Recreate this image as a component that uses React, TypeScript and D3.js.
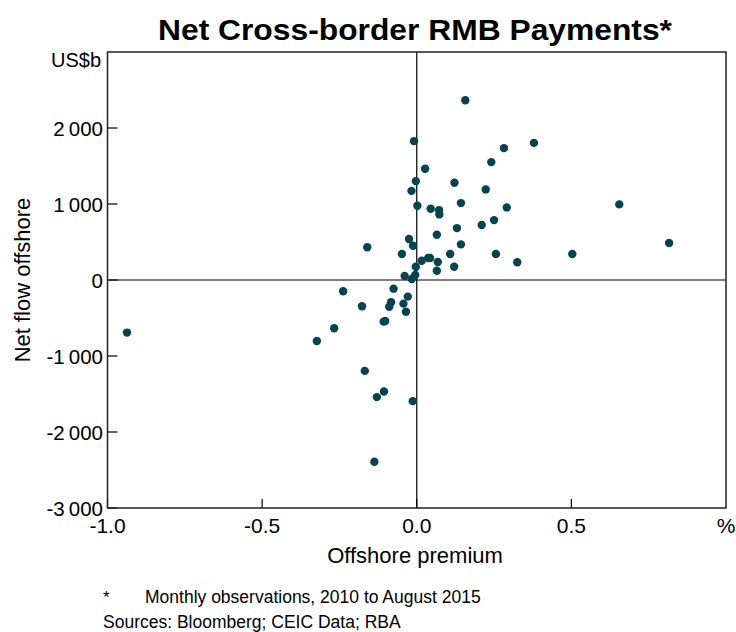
import React, { useEffect, useRef } from 'react';
import * as d3 from 'd3';

// offshore premium (%) and net flow offshore (US$b)
const premium = [
    0.157, -0.009, 0.379, 0.282, 0.027, 0.241, -0.003, 0.122, -0.017, 0.223,
    0.002, 0.143, 0.045, 0.072, 0.073, 0.291, 0.655, 0.25, 0.21, 0.13,
    0.065, -0.025, -0.012, 0.143, 0.816, -0.048, 0.108, 0.256, 0.503, 0.016,
    0.037, 0.043, 0.068, 0.325, 0.121, -0.003, 0.065, -0.039, -0.005, -0.016,
    -0.16, -0.075, -0.238, -0.177, -0.083, -0.089, -0.043, -0.029, -0.035, -0.107,
    -0.102, -0.267, -0.323, -0.937, -0.168, -0.106, -0.129, -0.013, -0.137
];
const netFlow = [
    2365, 1827, 1804, 1735, 1463, 1551, 1301, 1279, 1173, 1192,
    976, 1012, 937, 920, 863, 955, 995, 788, 723, 683,
    595, 539, 451, 469, 486, 342, 342, 342, 342, 254,
    289, 289, 237, 233, 175, 175, 122, 53, 66, 13,
    430, -114, -148, -346, -293, -351, -311, -219, -417, -548,
    -540, -635, -802, -692, -1196, -1468, -1541, -1594, -2392
];

const xTicks = [-1.0, -0.5, 0.0, 0.5];
const yTicks = [-3000, -2000, -1000, 0, 1000, 2000];

const font = '"Liberation Sans", Arial, sans-serif';
const dotColor = '#08444f';

const App = () => {
    const chartRef = useRef(null);

    useEffect(() => {
        const svg = d3.select(chartRef.current);
        svg.selectAll('*').remove();

        const left = 107.5, right = 726, top = 52, bottom = 508;

        const x = d3.scaleLinear().domain([-1, 1]).range([left, right]);
        const y = d3.scaleLinear().domain([-3000, 3000]).range([bottom, top]);

        // title
        svg.append('text')
            .attr('x', 415).attr('y', 40)
            .attr('text-anchor', 'middle')
            .attr('font-family', font)
            .attr('font-weight', 'bold')
            .attr('font-size', 29)
            .attr('textLength', 514)
            .attr('lengthAdjust', 'spacingAndGlyphs')
            .text('Net Cross-border RMB Payments*');

        // zero lines
        svg.append('line')
            .attr('x1', left).attr('x2', right)
            .attr('y1', y(0)).attr('y2', y(0))
            .attr('stroke', '#000').attr('stroke-width', 1.2);
        svg.append('line')
            .attr('x1', x(0)).attr('x2', x(0))
            .attr('y1', top).attr('y2', bottom)
            .attr('stroke', '#000').attr('stroke-width', 1.2);

        // ticks inside the frame
        svg.selectAll('.ytick')
            .data(yTicks)
            .enter().append('line')
            .attr('x1', left).attr('x2', left + 10)
            .attr('y1', d => y(d)).attr('y2', d => y(d))
            .attr('stroke', '#000').attr('stroke-width', 1.2);
        svg.selectAll('.xtick')
            .data(xTicks)
            .enter().append('line')
            .attr('x1', d => x(d)).attr('x2', d => x(d))
            .attr('y1', bottom).attr('y2', bottom - 9)
            .attr('stroke', '#000').attr('stroke-width', 1.2);

        // frame
        svg.append('rect')
            .attr('x', left).attr('y', top)
            .attr('width', right - left).attr('height', bottom - top)
            .attr('fill', 'none')
            .attr('stroke', '#222').attr('stroke-width', 1.5);

        const fmtY = d => d3.format(',')(d).replace(',', '\u2009').replace('\u2212', '-');

        // y tick labels
        svg.selectAll('.ylabel')
            .data(yTicks)
            .enter().append('text')
            .attr('x', 103)
            .attr('y', d => y(d) + (d === -3000 ? 8 : 7.5))
            .attr('text-anchor', 'end')
            .attr('font-family', font)
            .attr('font-size', 20.5)
            .text(fmtY);
        svg.append('text')
            .attr('x', 101).attr('y', 67)
            .attr('text-anchor', 'end')
            .attr('font-family', font)
            .attr('font-size', 20)
            .text('US$b');

        // x tick labels
        svg.selectAll('.xlabel')
            .data(xTicks)
            .enter().append('text')
            .attr('x', d => x(d))
            .attr('y', 533)
            .attr('text-anchor', 'middle')
            .attr('font-family', font)
            .attr('font-size', 21)
            .text(d => d3.format('.1f')(d).replace('\u2212', '-'));
        svg.append('text')
            .attr('x', x(1)).attr('y', 533)
            .attr('text-anchor', 'middle')
            .attr('font-family', font)
            .attr('font-size', 21)
            .text('%');

        // axis titles
        svg.append('text')
            .attr('x', 415).attr('y', 563)
            .attr('text-anchor', 'middle')
            .attr('font-family', font)
            .attr('font-size', 22)
            .text('Offshore premium');
        svg.append('text')
            .attr('transform', 'translate(30, 280) rotate(-90)')
            .attr('text-anchor', 'middle')
            .attr('font-family', font)
            .attr('font-size', 22)
            .text('Net flow offshore');

        // dots
        svg.selectAll('.dot')
            .data(premium.map((p, i) => [p, netFlow[i]]))
            .enter().append('circle')
            .attr('cx', d => x(d[0]))
            .attr('cy', d => y(d[1]))
            .attr('r', 4.2)
            .attr('fill', dotColor);

        // notes
        svg.append('text')
            .attr('x', 103).attr('y', 603)
            .attr('font-family', font).attr('font-size', 17)
            .text('*');
        svg.append('text')
            .attr('x', 145).attr('y', 603)
            .attr('font-family', font).attr('font-size', 17.5)
            .text('Monthly observations, 2010 to August 2015');
        svg.append('text')
            .attr('x', 103).attr('y', 628)
            .attr('font-family', font).attr('font-size', 17.5)
            .text('Sources: Bloomberg; CEIC Data; RBA');
    }, []);

    return (
        <svg ref={chartRef} width={736} height={632}
            style={{ position: 'absolute', left: 0, top: 0, background: '#fff' }}></svg>
    );
};

export default App;
